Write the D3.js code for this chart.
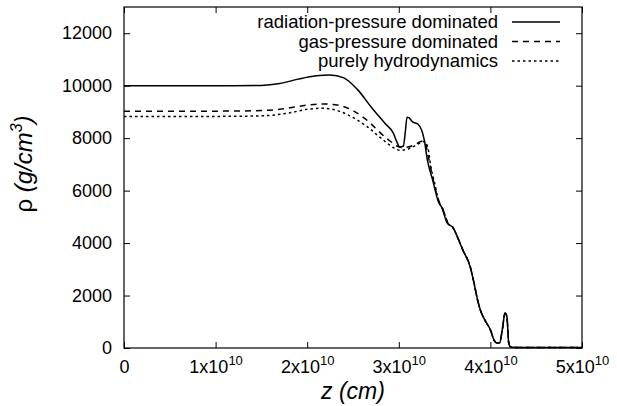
<!DOCTYPE html>
<html>
<head>
<meta charset="utf-8">
<script src="https://cdn.jsdelivr.net/npm/d3@7"></script>
<style>
body { margin: 0; background: #fff; }
text { font-family: "Liberation Sans", Arial, sans-serif; fill: #000; }
</style>
</head>
<body>
<svg id="svg" width="617" height="406"></svg>
<script>
// z in units of 1e10 cm, rho in g/cm^3
var names = ["radiation-pressure dominated", "gas-pressure dominated", "purely hydrodynamics"];

var radZ   = [0, 1.0, 1.5, 1.7, 1.9, 2.1, 2.25, 2.4, 2.55, 2.7, 2.85, 2.94, 2.98, 3.01, 3.05, 3.07, 3.09, 3.11, 3.15, 3.21, 3.25, 3.28, 3.31, 3.37, 3.43, 3.47, 3.53, 3.59, 3.65, 3.70, 3.78, 3.82, 3.86, 3.89, 3.95, 4.0, 4.04, 4.07, 4.10, 4.13, 4.16, 4.18, 4.20, 4.22, 4.3, 5.0];
var radRho = [10000, 10000, 10010, 10080, 10250, 10380, 10410, 10300, 9850, 9180, 8560, 8190, 7850, 7660, 7700, 8200, 8800, 8780, 8620, 8530, 8300, 7900, 7200, 6400, 5600, 5350, 4750, 4600, 4150, 3730, 3090, 2500, 1830, 1450, 1000, 690, 300, 190, 200, 700, 1330, 1200, 200, 40, 20, 20];

var gasZ   = [0, 1.0, 1.5, 1.8, 2.0, 2.2, 2.35, 2.5, 2.69, 2.79, 2.9, 2.98, 3.03, 3.1, 3.18, 3.25, 3.29, 3.31, 3.34, 3.38, 3.44, 3.48, 3.54, 3.59, 3.65, 3.70, 3.78, 3.82, 3.86, 3.89, 3.95, 4.0, 4.04, 4.07, 4.10, 4.13, 4.16, 4.18, 4.20, 4.22, 4.3, 5.0];
var gasRho = [9030, 9030, 9050, 9150, 9260, 9300, 9250, 9050, 8570, 8230, 7900, 7700, 7640, 7660, 7760, 7880, 7850, 7500, 7000, 6350, 5580, 5300, 4740, 4600, 4150, 3730, 3090, 2500, 1830, 1450, 1000, 690, 300, 190, 200, 700, 1330, 1200, 200, 40, 20, 20];

var hydZ   = [0, 1.0, 1.5, 1.8, 2.0, 2.15, 2.3, 2.45, 2.65, 2.83, 2.95, 3.01, 3.08, 3.16, 3.23, 3.28, 3.32, 3.35, 3.39, 3.44, 3.48, 3.54, 3.59, 3.65, 3.70, 3.78, 3.82, 3.86, 3.89, 3.95, 4.0, 4.04, 4.07, 4.10, 4.13, 4.16, 4.18, 4.20, 4.22, 4.3, 5.0];
var hydRho = [8830, 8830, 8850, 8960, 9100, 9140, 9080, 8880, 8450, 7930, 7620, 7540, 7560, 7680, 7810, 7870, 7600, 6900, 6300, 5560, 5300, 4740, 4600, 4150, 3730, 3090, 2500, 1830, 1450, 1000, 690, 300, 190, 200, 700, 1330, 1200, 200, 40, 20, 20];

var xTicks = [0, 1, 2, 3, 4, 5];
var yTicks = [0, 2000, 4000, 6000, 8000, 10000, 12000];

var series = [
    d3.zip(radZ, radRho),
    d3.zip(gasZ, gasRho),
    d3.zip(hydZ, hydRho)
];
var dashes = [null, "6,5", "2.5,3"];

var svg = d3.select("#svg");
var mLeft = 124, mRight = 582, mTop = 7, mBottom = 348;

var x = d3.scaleLinear().domain([0, 5]).range([mLeft, mRight]);
var y = d3.scaleLinear().domain([0, 13000]).range([mBottom, mTop]);

//axes, ticks pointing inwards on all four sides
var gx = svg.append("g").attr("transform", "translate(0," + mBottom + ")")
    .call(d3.axisBottom(x).tickValues(xTicks).tickSize(-6).tickPadding(12));
gx.selectAll(".tick text").each(function(d) {
    var t = d3.select(this).text("").attr("font-size", 18);
    if (d === 0) { t.text("0"); return; }
    t.append("tspan").text(d + "x10");
    t.append("tspan").attr("dy", -8).attr("font-size", 13).text("10");
});
svg.append("g").attr("transform", "translate(0," + mTop + ")")
    .call(d3.axisTop(x).tickValues(xTicks).tickSize(-6).tickFormat(""));

svg.append("g").attr("transform", "translate(" + mLeft + ",0)")
    .call(d3.axisLeft(y).tickValues(yTicks).tickSize(-6).tickPadding(12).tickFormat(d3.format("d")))
    .selectAll(".tick text").attr("font-size", 18);
svg.append("g").attr("transform", "translate(" + mRight + ",0)")
    .call(d3.axisRight(y).tickValues(yTicks).tickSize(-6).tickFormat(""));

svg.selectAll(".domain").remove();
svg.selectAll(".tick line").attr("stroke", "#000");

svg.append("rect")
    .attr("x", mLeft).attr("y", mTop)
    .attr("width", mRight - mLeft).attr("height", mBottom - mTop)
    .attr("fill", "none").attr("stroke", "#000").attr("stroke-width", 1.2);

//curves
var line = d3.line()
    .x(function(d) { return x(d[0]); })
    .y(function(d) { return y(d[1]); })
    .curve(d3.curveMonotoneX);

svg.selectAll(".curve").data(series).enter().append("path")
    .attr("class", "curve")
    .attr("d", line)
    .attr("fill", "none")
    .attr("stroke", "#000")
    .attr("stroke-width", 1.5)
    .attr("stroke-dasharray", function(d, i) { return dashes[i]; });

//legend
var leg = svg.selectAll(".leg").data(names).enter().append("g")
    .attr("class", "leg")
    .attr("transform", function(d, i) { return "translate(0," + (22 + i * 19.5) + ")"; });
leg.append("text")
    .attr("x", 498).attr("dy", "0.35em")
    .attr("text-anchor", "end").attr("font-size", 18.5)
    .text(function(d) { return d; });
leg.append("line")
    .attr("x1", 512).attr("x2", 560)
    .attr("stroke", "#000").attr("stroke-width", 1.5)
    .attr("stroke-dasharray", function(d, i) { return dashes[i]; });

//axis titles
svg.append("text")
    .attr("x", 353).attr("y", 399)
    .attr("text-anchor", "middle").attr("font-size", 23).attr("font-style", "italic")
    .text("z (cm)");

var yt = svg.append("text")
    .attr("transform", "translate(32,164) rotate(-90)")
    .attr("text-anchor", "middle").attr("font-size", 24);
yt.append("tspan").text("\u03c1 ");
yt.append("tspan").attr("font-style", "italic").text("(g/cm");
yt.append("tspan").attr("font-style", "italic").attr("font-size", 16).attr("dy", -10).text("3");
yt.append("tspan").attr("font-style", "italic").attr("dy", 10).text(")");
</script>
</body>
</html>
